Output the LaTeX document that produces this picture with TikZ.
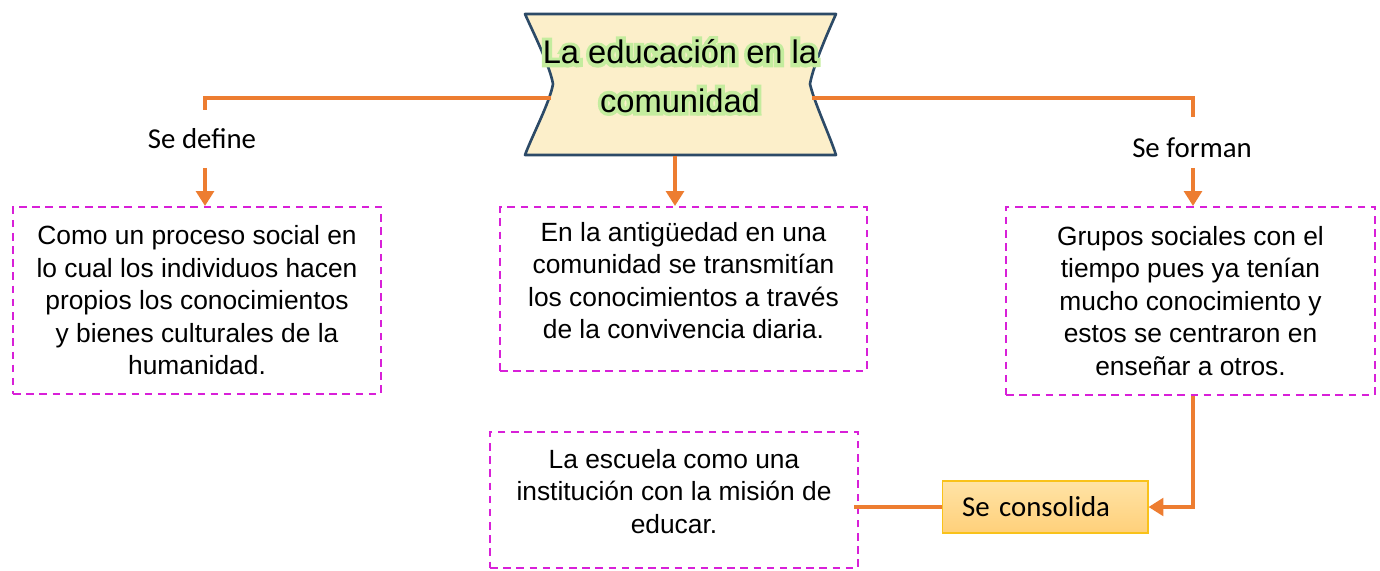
\documentclass[tikz,border=0pt]{standalone}
\usepackage{fontspec}
\setmainfont{Liberation Sans}
\newfontfamily\calibri{Carlito}
\newfontface\glowface{Liberation Sans}[FakeBold=22]
\usetikzlibrary{positioning,arrows.meta}

\definecolor{linkorange}{HTML}{ED7D31}
\definecolor{boxpink}{HTML}{D820D8}
\definecolor{titlefill}{HTML}{FCEFCA}
\definecolor{titleline}{HTML}{2C4A67}
\definecolor{glow}{HTML}{C4EC9E}
\definecolor{consoltop}{HTML}{FFE3A6}
\definecolor{consolbot}{HTML}{FFD07A}
\definecolor{consolline}{HTML}{F9C21A}

\tikzset{
  textbox/.style={draw=boxpink, line width=1.1pt, dash pattern=on 4.3pt off 3.2pt,
    align=center, font=\fontsize{15}{18.5}\selectfont, inner sep=0pt},
  link/.style={draw=linkorange, line width=2.2pt},
  arr/.style={link, -{Triangle[width=10pt,length=8.5pt]}},
  tag/.style={font=\calibri\fontsize{16.4}{19}\selectfont, inner sep=0pt},
  headline/.style={align=center, font=\fontsize{18.6}{27.5}\selectfont},
  consolbox/.style={draw=consolline, line width=0.6pt, top color=consoltop, bottom color=consolbot,
    minimum width=4.12cm, minimum height=1.04cm, inner xsep=0.4cm, text width=3.32cm, align=left,
    font=\calibri\fontsize{16.4}{19}\selectfont}
}

\begin{document}
\begin{tikzpicture}[x=0.02cm, y=-0.02cm]
\useasboundingbox (0,0) rectangle (1380,571);

\filldraw[fill=titlefill, draw=titleline, line width=1.5pt, line join=round]
  (525,14) -- (836,14) .. controls (828,32) and (813,66) .. (810,84)
  .. controls (814,102) and (830,136) .. (836,155) -- (525,155)
  .. controls (532,136) and (550,102) .. (553,84)
  .. controls (550,66) and (533,32) .. (525,14) -- cycle;
\node[headline, text=glow, font=\glowface\fontsize{18.6}{27.5}\selectfont] (titleglow) at (680,76)
  {La educación en la\\comunidad};
\node[headline] (title) at (titleglow) {La educación en la\\comunidad};

\node[textbox, minimum width=7.36cm, minimum height=3.74cm] (box1) at (197,300.5)
  {Como un proceso social en\\lo cual los individuos hacen\\propios los conocimientos\\y bienes culturales de la\\humanidad.};
\node[textbox, minimum width=7.34cm, minimum height=3.28cm, text depth=10pt] (box2) at (683.5,289)
  {En la antigüedad en una\\comunidad se transmitían\\los conocimientos a través\\de la convivencia diaria.};
\node[textbox, minimum width=7.38cm, minimum height=3.76cm] (box3) at (1190.5,301)
  {Grupos sociales con el\\tiempo pues ya tenían\\mucho conocimiento y\\estos se centraron en\\enseñar a otros.};
\node[textbox, minimum width=7.36cm, minimum height=2.72cm, text depth=10pt] (box4) at (674,500)
  {La escuela como una\\institución con la misión de\\educar.};

\node[tag] (define) at (202,139) {Se define};
\node[tag] (forman) at (1192,148) {Se forman};
\node[consolbox] (consol) at (1045,507) {Se consolida};

\coordinate (titleW) at (551,98);
\coordinate (titleE) at (812,98);
\coordinate (titleS) at (675,156);
\coordinate (defTop) at (205,110);
\coordinate (defBot) at (205,168);
\coordinate (formTop) at (1193,117);
\coordinate (formBot) at (1193,168);

\draw[link] (titleW) -| (defTop);
\draw[arr] (defBot) -- (defBot |- box1.north);
\draw[link] (titleE) -| (formTop);
\draw[arr] (formBot) -- (formBot |- box3.north);
\draw[arr] (titleS) -- (titleS |- box2.north);
\draw[arr] (formBot |- box3.south) |- (consol.east);
\draw[link] (consol.west) -- ([xshift=-3pt]consol.west -| box4.east);
\end{tikzpicture}
\end{document}
